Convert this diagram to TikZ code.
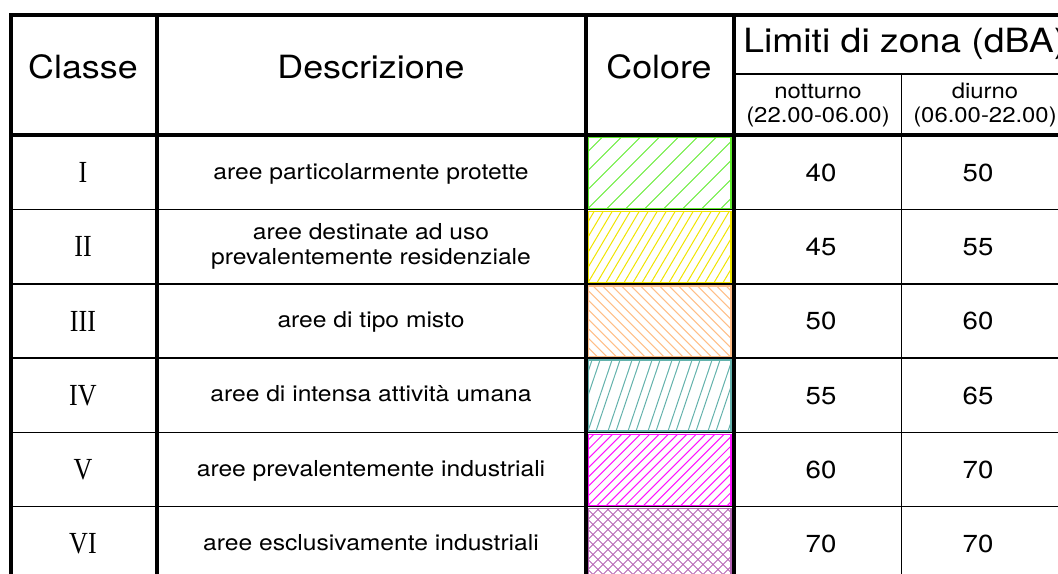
\documentclass[tikz,border=0pt]{standalone}
\usepackage{fontspec}
\setmainfont{TeX Gyre Heros}[FakeStretch=1.12]
\newfontfamily\romfont{Liberation Serif}[FakeStretch=0.85]
\usepackage{tikz}
\usepackage{xcolor}
\usetikzlibrary{positioning}

\definecolor{zgreen}{RGB}{95,235,45}
\definecolor{zyellow}{RGB}{240,228,0}
\definecolor{zorange}{RGB}{255,190,135}
\definecolor{zteal}{RGB}{100,178,172}
\definecolor{zmagenta}{RGB}{255,20,255}
\definecolor{zpurple}{RGB}{180,100,180}

\tikzset{
    rule/.style={line width=3pt},
    hair/.style={line width=1.1pt},
    head/.style={font=\fontsize{24}{28}\selectfont, inner sep=0pt, anchor=base},
    sub/.style={font=\fontsize{16}{19}\selectfont, inner sep=0pt, anchor=base},
    desc/.style={font=\fontsize{16.5}{20}\selectfont, inner sep=0pt, anchor=base},
    num/.style={font=\fontsize{18.5}{22}\selectfont, inner sep=0pt, anchor=base},
    rom/.style={font=\romfont\fontsize{23}{27}\selectfont, inner sep=0pt, anchor=base}
}

% hatched swatch: row top, colour, slant, spacing, offset
\newcommand{\hatch}[5]{%
    \begin{scope}
        \clip (588,#1+2) rectangle (731,#1+73);
        \foreach \k in {-20,...,40}
            \draw[#2, line width=0.75pt] ({588+\k*#4+#5},#1+73) -- ++(#3,-71);
    \end{scope}
    \draw[#2, line width=1.2pt] (588,#1+2) rectangle (731,#1+73);}

\begin{document}
\begin{tikzpicture}[x=0.75pt, y=-0.75pt]
    \useasboundingbox (0,0) rectangle (1058,574);
    \clip (0,0) rectangle (1058,574);

    % swatches
    \hatch{135.5}{zgreen}{71}{19}{0}
    \hatch{209.7}{zyellow}{42}{9}{0}
    \hatch{283.9}{zorange}{-71}{9.5}{0}
    \hatch{358.1}{zteal}{24}{20}{0}
    \hatch{358.1}{zteal}{24}{20}{8}
    \hatch{432.3}{zmagenta}{71}{9.3}{0}
    \hatch{506.5}{zpurple}{71}{10}{0}
    \hatch{506.5}{zpurple}{-71}{10}{0}

    % grid
    \foreach \i in {1,...,5}
        \draw[hair] (11,{135.5+74.2*\i}) -- (1070,{135.5+74.2*\i});
    \draw[hair] (733.5,74) -- (1070,74);
    \draw[hair] (901.7,74) -- (901.7,580);
    \draw[rule] (9,15) -- (1070,15);
    \draw[rule] (9,135.5) -- (1070,135.5);
    \foreach \x in {11,157,585.5,733.5}
        \draw[rule] (\x,13.5) -- (\x,580);

    % header
    \node[head] (cl) at (83,79) {Classe};
    \node[head] (de) at (371,79) {Descrizione};
    \node[head] (co) at (659,79) {Colore};
    \node[head, anchor=base west, font=\fontsize{25}{29}\selectfont] (li) at (743,53) {Limiti di zona (dBA)};
    \node[sub] (nt) at (818,99) {notturno};
    \node[sub] (nth) at (818,123) {(22.00-06.00)};
    \node[sub] (di) at (985,99) {diurno};
    \node[sub] (dih) at (985,123) {(06.00-22.00)};

    % rows
    \foreach \i/\r/\n/\d in {1/I/40/50, 2/II/45/55, 3/III/50/60, 4/IV/55/65, 5/V/60/70, 6/VI/70/70} {
        \node[rom] (r\i) at (83,{98.4+74.2*\i+10}) {\r};
        \node[num] (n\i) at (821,{98.4+74.2*\i+9}) {\n};
        \node[num] (d\i) at (978,{98.4+74.2*\i+9}) {\d};
    }
    \node[desc] (t1) at (371,180) {aree particolarmente protette};
    \node[desc] (t2) at (371,240) {aree destinate ad uso};
    \node[desc] (t2b) at (371,265) {prevalentemente residenziale};
    \node[desc] (t3) at (371,328) {aree di tipo misto};
    \node[desc] (t4) at (371,402) {aree di intensa attività umana};
    \node[desc] (t5) at (371,476) {aree prevalentemente industriali};
    \node[desc] (t6) at (371,550) {aree esclusivamente industriali};
\end{tikzpicture}
\end{document}
